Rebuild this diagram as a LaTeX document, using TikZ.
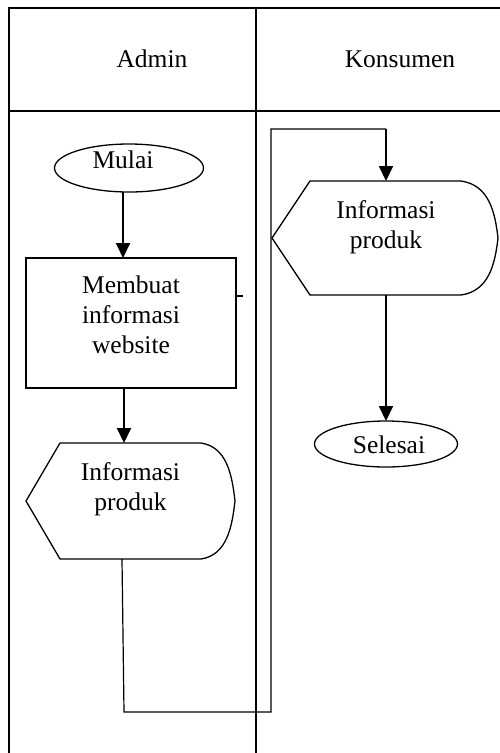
\documentclass[tikz,border=0pt]{standalone}
\usepackage{fontspec}
\setmainfont{Liberation Serif}
\usetikzlibrary{shapes.geometric,arrows.meta,calc}
\begin{document}
\begin{tikzpicture}[x=1pt,y=-1pt,
  every node/.style={font=\fontsize{25.5}{30}\selectfont, inner sep=0pt, outer sep=0pt},
  grid/.style={line width=1.8pt},
  shapeline/.style={draw, line width=1.3pt},
  flow/.style={line width=1.2pt},
  arr/.style={line width=2pt, -{Triangle[length=15pt,width=14pt]}},
  lbl/.style={align=center},
  term/.style={ellipse, shapeline, minimum width=#1, minimum height=48pt},
  procbox/.style={rectangle, shapeline, minimum width=210pt, minimum height=130pt},
  dispbox/.style={rectangle, minimum width=#1}]
\useasboundingbox (0,0) rectangle (500,753);
\fill[white] (0,0) rectangle (500,753);

% swimlane table
\draw[grid] (9,753) -- (9,8) -- (500,8);
\draw[grid] (9,111) -- (500,111);
\draw[grid] (256,8) -- (256,753);
\node[anchor=base] (hadmin) at (152,67) {Admin};
\node[anchor=base] (hkons) at (400,67) {Konsumen};

% Admin lane
\node[term=149pt] (mulai) at (129,168) {};
\node[anchor=base] (mulaiT) at (123,168) {Mulai};
\node[procbox] (box) at (131,323) {};
\node[lbl] (boxT) at (131,315) {Membuat\\informasi\\website};
\node[dispbox=209pt, minimum height=116pt] (d1) at (130.5,501) {};
\draw[shapeline] (d1.west) -- ($(d1.north west)+(34,0)$) -- ($(d1.north east)+(-34,0)$)
  .. controls ($(d1.north east)+(-8,4)$) and ($(d1.east)+(-3,-26)$) .. (d1.east)
  .. controls ($(d1.east)+(-3,26)$) and ($(d1.south east)+(-8,-4)$) .. ($(d1.south east)+(-34,0)$)
  -- ($(d1.south west)+(34,0)$) -- cycle;
\node[lbl] (d1T) at (130.5,489.5) {Informasi\\produk};
\draw[line width=1.4pt] ($(box.east)+(0,-27)$) -- ++(7,0);

% Konsumen lane
\node[dispbox=226pt, minimum height=114pt] (d2) at (385,238) {};
\draw[shapeline] (d2.west) -- ($(d2.north west)+(38,0)$) -- ($(d2.north east)+(-37,0)$)
  .. controls ($(d2.north east)+(-9,4)$) and ($(d2.east)+(-3,-26)$) .. (d2.east)
  .. controls ($(d2.east)+(-3,26)$) and ($(d2.south east)+(-9,-4)$) .. ($(d2.south east)+(-37,0)$)
  -- ($(d2.south west)+(38,0)$) -- cycle;
\node[lbl] (d2T) at (386,227) {Informasi\\produk};
\node[term=143pt, minimum height=46pt] (selesai) at (386,444) {};
\node[anchor=base] (selesaiT) at (389,453) {Selesai};

% connectors
\draw[arr] ([xshift=-6pt]mulai.south) -- ([xshift=-6pt]mulai.south |- box.north);
\draw[arr] ([xshift=-7pt]box.south) -- ([xshift=-7pt]box.south |- d1.north);
\coordinate (c1) at (124,712);
\coordinate (c2) at (271,712);
\coordinate (c3) at (271,129);
\coordinate (c4) at (386,129);
\draw[flow] ([xshift=-8.5pt]d1.south) -- (c1) -- (c2) -- (c3) -- (c4);
\draw[arr] (c4) -- (c4 |- d2.north);
\draw[arr] ([xshift=1pt]d2.south) -- ([xshift=1pt]d2.south |- selesai.north);
\end{tikzpicture}
\end{document}
